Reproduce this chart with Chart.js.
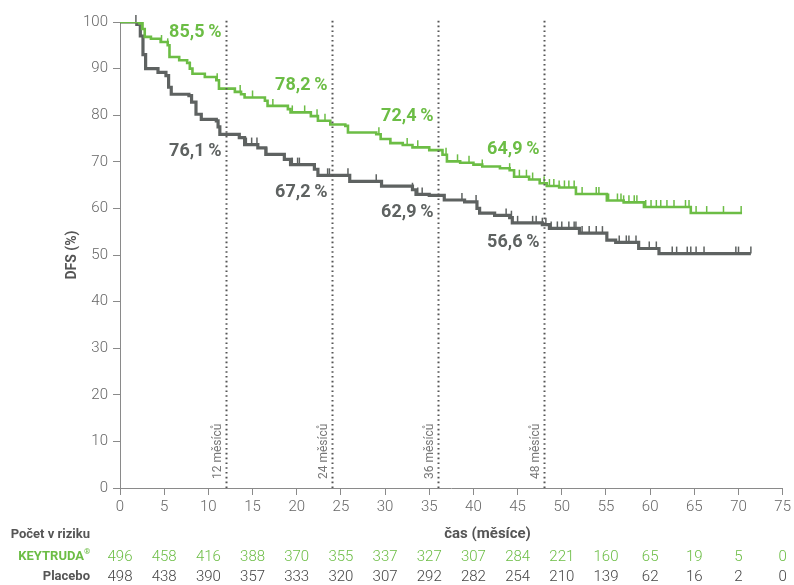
<!DOCTYPE html>
<html>
<head>
<meta charset="utf-8">
<script src="https://cdn.jsdelivr.net/npm/chart.js@4.4.1/dist/chart.umd.min.js"></script>
<style>
    html, body { margin: 0; padding: 0; background: #fff; }
</style>
</head>
<body>
<canvas id="chartDfs" width="794" height="585"></canvas>
<script>
// ==========================================
// Data - Kaplan-Meier DFS
// ==========================================
const keytrudaMonths = [0, 2.2, 2.5, 2.8, 3.5, 4.6, 5.4, 5.6, 6.7, 7.6, 7.9, 8.2, 9.6, 10.9, 11.2, 13.0, 13.7, 14.1, 16.4, 16.7, 19.0, 19.3, 21.6, 22.4, 23.8, 25.5, 25.8, 29.0, 29.5, 30.6, 32.0, 33.1, 35.0, 36.5, 37.0, 38.5, 40.0, 41.0, 43.0, 44.1, 44.6, 46.3, 47.5, 48.3, 49.7, 51.6, 55.1, 57.0, 59.3, 64.6, 70.4];
const keytrudaDfs    = [100, 99.7, 98.5, 96.8, 96.4, 95.7, 95.0, 92.5, 91.8, 91.2, 90.0, 88.9, 88.2, 87.5, 85.7, 85.0, 84.5, 83.8, 83.1, 82.0, 81.3, 80.6, 79.8, 78.8, 78.0, 77.7, 76.3, 75.9, 74.9, 74.0, 73.6, 73.1, 72.5, 71.5, 70.1, 69.8, 69.4, 69.0, 68.6, 68.2, 66.8, 66.2, 65.4, 64.8, 64.5, 63.1, 61.7, 61.3, 60.3, 59.0, 59.0];

const placeboMonths = [0, 1.9, 2.3, 2.6, 2.9, 4.3, 5.2, 5.5, 5.8, 7.8, 8.1, 8.6, 9.2, 10.9, 11.1, 11.3, 13.5, 14.1, 15.6, 16.5, 18.6, 19.3, 22.0, 22.4, 26.0, 29.6, 33.1, 33.5, 35.0, 36.7, 39.0, 40.4, 40.7, 42.4, 44.1, 44.4, 47.8, 48.6, 52.0, 55.1, 56.1, 58.7, 61.0, 71.4];
const placeboDfs    = [100, 99.5, 97.0, 93.0, 90.0, 89.2, 88.5, 86.0, 84.5, 84.2, 82.8, 80.2, 79.1, 78.8, 77.5, 75.9, 75.2, 73.7, 73.0, 71.6, 70.5, 69.4, 68.4, 67.1, 65.8, 64.8, 64.0, 63.0, 62.8, 61.8, 61.4, 60.0, 59.0, 58.5, 58.0, 56.9, 56.5, 55.7, 54.7, 53.2, 52.7, 51.4, 50.3, 50.3];

// cenzurovaná pozorování (měsíce)
const keytrudaCensored = [2.6, 4.7, 5.4, 7.9, 11.0, 13.6, 15.0, 17.3, 19.5, 20.9, 22.3, 23.2, 29.3, 32.5, 33.7, 36.9, 38.2, 39.5, 41.0, 44.1, 45.2, 46.0, 46.7, 48.0, 48.6, 49.1, 49.7, 50.3, 50.8, 51.4, 52.3, 53.9, 54.2, 55.3, 56.3, 56.7, 57.0, 57.6, 58.2, 58.5, 59.5, 60.1, 60.7, 61.2, 61.9, 62.7, 64.0, 64.4, 65.2, 66.4, 68.3, 70.3];
const placeboCensored  = [1.8, 14.3, 14.9, 15.5, 16.6, 19.5, 20.1, 20.3, 23.5, 23.7, 25.8, 29.0, 33.1, 33.7, 34.2, 38.7, 40.3, 43.7, 44.3, 45.0, 46.7, 47.1, 47.8, 48.2, 48.8, 49.5, 50.0, 50.8, 51.4, 51.6, 52.3, 53.1, 53.9, 54.6, 56.5, 57.3, 57.6, 58.4, 58.7, 59.9, 60.7, 62.5, 63.0, 64.2, 64.6, 65.2, 66.1, 69.7, 70.0, 71.4];

// orientační body
const landmarkMonths = [12, 24, 36, 48];
const keytrudaLandmark = ['85,5', '78,2', '72,4', '64,9'];
const placeboLandmark  = ['76,1', '67,2', '62,9', '56,6'];
const keytrudaLandmarkValues = [85.5, 78.2, 72.4, 64.9];
const placeboLandmarkValues  = [76.1, 67.2, 62.9, 56.6];

// počet v riziku
const riskMonths   = [0, 5, 10, 15, 20, 25, 30, 35, 40, 45, 50, 55, 60, 65, 70, 75];
const keytrudaRisk = [496, 458, 416, 388, 370, 355, 337, 327, 307, 284, 221, 160, 65, 19, 5, 0];
const placeboRisk  = [498, 438, 390, 357, 333, 320, 307, 292, 282, 254, 210, 139, 62, 16, 2, 0];

const GREEN = '#6cbd45';
const GREY = '#5e6261';
const TEXT_GREY = '#666666';
const FONT = 'Roboto, "Open Sans", sans-serif';

function toPoints(months, values) {
    return months.map(function (m, i) { return { x: m, y: values[i] }; });
}

function valueAt(months, values, t) {
    let v = values[0];
    for (let i = 0; i < months.length; i++) {
        if (months[i] <= t) v = values[i];
    }
    return v;
}

// ==========================================
// Plugin: cenzury, orientační linie, tabulka
// ==========================================
const kmExtras = {
    id: 'kmExtras',
    afterDatasetsDraw: function (chart) {
        const ctx = chart.ctx;
        const xs = chart.scales.x;
        const ys = chart.scales.y;
        const area = chart.chartArea;

        // censor ticks
        const censorSets = [
            { t: placeboCensored, m: placeboMonths, v: placeboDfs, c: GREY },
            { t: keytrudaCensored, m: keytrudaMonths, v: keytrudaDfs, c: GREEN }
        ];
        ctx.save();
        ctx.lineWidth = 1.5;
        censorSets.forEach(function (s) {
            ctx.strokeStyle = s.c;
            s.t.forEach(function (t) {
                const px = xs.getPixelForValue(t);
                const py = ys.getPixelForValue(valueAt(s.m, s.v, t));
                ctx.beginPath();
                ctx.moveTo(px, py);
                ctx.lineTo(px, py - 7);
                ctx.stroke();
            });
        });
        ctx.restore();

        // dotted landmark lines + labels
        ctx.save();
        landmarkMonths.forEach(function (m, i) {
            const px = Math.round(xs.getPixelForValue(m)) + 0.5;
            ctx.strokeStyle = '#555';
            ctx.lineWidth = 2;
            ctx.setLineDash([1.6, 3.2]);
            ctx.beginPath();
            ctx.moveTo(px, area.bottom);
            ctx.lineTo(px, area.top - 4);
            ctx.stroke();
            ctx.setLineDash([]);

            // rotated label
            ctx.save();
            ctx.translate(px - 9, area.bottom - 9);
            ctx.rotate(-Math.PI / 2);
            ctx.fillStyle = '#777';
            ctx.font = '12px ' + FONT;
            ctx.textAlign = 'left';
            ctx.textBaseline = 'middle';
            ctx.fillText(m + ' měsíců', 0, 0);
            ctx.restore();

            // percentages
            const lift = [57, 38, 34, 36];
            ctx.font = 'bold 18px ' + FONT;
            ctx.textAlign = 'right';
            ctx.textBaseline = 'middle';
            ctx.fillStyle = GREEN;
            ctx.fillText(keytrudaLandmark[i] + '\u2009%', px - 5, ys.getPixelForValue(keytrudaLandmarkValues[i]) - lift[i]);
            ctx.fillStyle = GREY;
            ctx.fillText(placeboLandmark[i] + '\u2009%', px - 5, ys.getPixelForValue(placeboLandmarkValues[i]) + 18);
        });
        ctx.restore();

        // x title + number at risk
        ctx.save();
        ctx.textBaseline = 'middle';
        ctx.font = 'bold 15px ' + FONT;
        ctx.fillStyle = '#555';
        ctx.textAlign = 'center';
        ctx.fillText('čas (měsíce)', xs.getPixelForValue(41.6), 534);

        ctx.textAlign = 'right';
        ctx.font = 'bold 13px ' + FONT;
        ctx.fillStyle = '#555';
        ctx.fillText('Počet v riziku', 90, 535);
        ctx.fillStyle = GREEN;
        ctx.fillText('KEYTRUDA', 84, 557);
        ctx.font = 'bold 8px ' + FONT;
        ctx.textAlign = 'left';
        ctx.fillText('®', 84, 552);
        ctx.textAlign = 'right';
        ctx.font = 'bold 13px ' + FONT;
        ctx.fillStyle = '#555';
        ctx.fillText('Placebo', 90, 577);

        ctx.font = '300 15px ' + FONT;
        ctx.textAlign = 'center';
        riskMonths.forEach(function (m, i) {
            const px = xs.getPixelForValue(m);
            ctx.fillStyle = GREEN;
            ctx.fillText(String(keytrudaRisk[i]), px, 557);
            ctx.fillStyle = '#444';
            ctx.fillText(String(placeboRisk[i]), px, 577);
        });
        ctx.restore();
    }
};

new Chart(document.getElementById('chartDfs'), {
    type: 'line',
    data: {
        datasets: [{
            label: 'KEYTRUDA',
            data: toPoints(keytrudaMonths, keytrudaDfs),
            borderColor: GREEN,
            borderWidth: 2.6,
            stepped: 'before',
            pointRadius: 0,
            fill: false
        }, {
            label: 'Placebo',
            data: toPoints(placeboMonths, placeboDfs),
            borderColor: GREY,
            borderWidth: 3.2,
            stepped: 'before',
            pointRadius: 0,
            fill: false
        }]
    },
    options: {
        responsive: false,
        animation: false,
        layout: {
            padding: { left: 64, right: 10, top: 22, bottom: 67 }
        },
        plugins: {
            legend: { display: false },
            tooltip: { enabled: false }
        },
        scales: {
            x: {
                type: 'linear',
                min: 0,
                max: 75,
                afterFit: function (s) { s.height = 30; },
                ticks: {
                    stepSize: 5,
                    color: TEXT_GREY,
                    padding: 3,
                    font: { family: FONT, size: 15, weight: '300' }
                },
                border: { color: '#8a8a8a', width: 1 },
                grid: {
                    drawOnChartArea: false,
                    drawTicks: true,
                    tickLength: 7,
                    color: '#8a8a8a'
                }
            },
            y: {
                min: 0,
                max: 100,
                afterFit: function (s) { s.width = 56; },
                title: {
                    display: true,
                    text: 'DFS (%)',
                    color: '#555',
                    font: { family: FONT, size: 14, weight: 'bold' },
                    padding: 0
                },
                ticks: {
                    stepSize: 10,
                    color: TEXT_GREY,
                    padding: 5,
                    font: { family: FONT, size: 15, weight: '300' }
                },
                border: { color: '#8a8a8a', width: 1 },
                grid: {
                    drawOnChartArea: false,
                    drawTicks: true,
                    tickLength: 7,
                    color: '#8a8a8a'
                }
            }
        }
    },
    plugins: [kmExtras]
});
</script>
</body>
</html>
